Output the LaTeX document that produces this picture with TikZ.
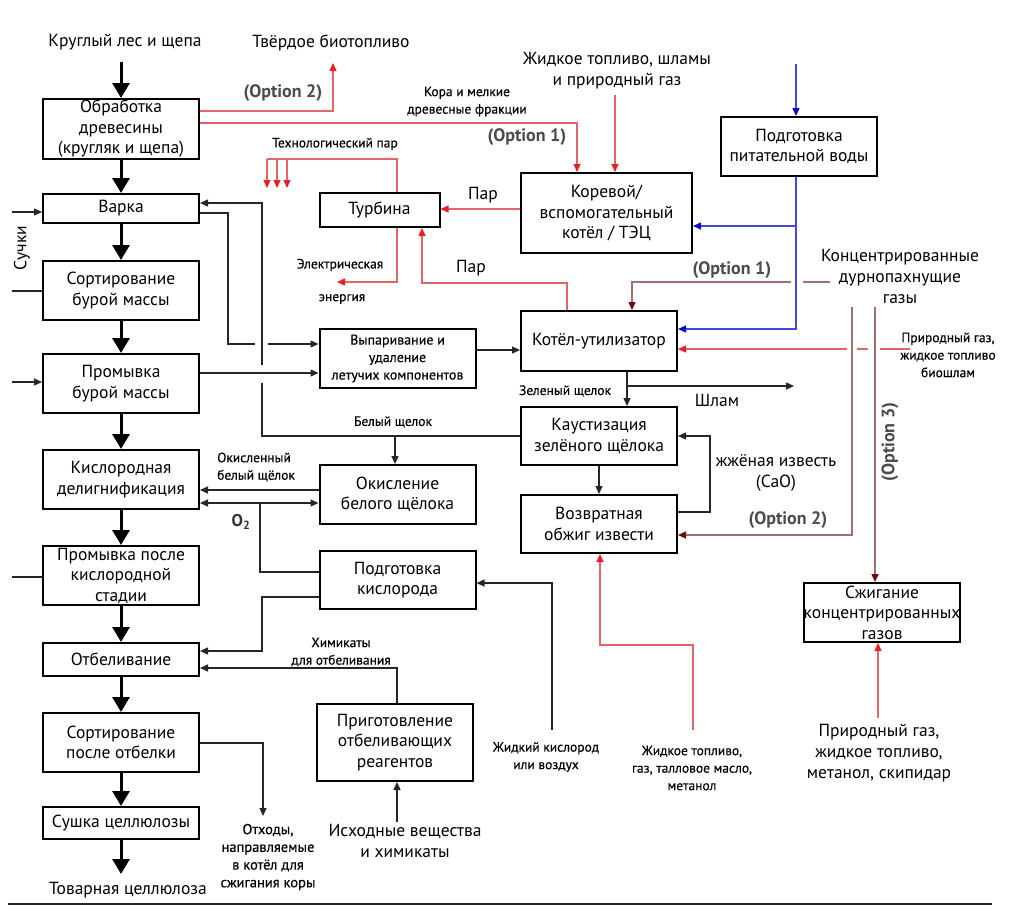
\documentclass[tikz,border=0pt]{standalone}
\usepackage{fontspec}
\setmainfont{PT Sans}
\newfontfamily\semib[FakeBold=0.35]{PT Sans}
\usetikzlibrary{arrows.meta}
\definecolor{lred}{RGB}{226,100,100}
\definecolor{tred}{RGB}{232,30,40}
\definecolor{optc}{RGB}{160,112,112}
\definecolor{optt}{RGB}{110,10,10}
\definecolor{blu}{RGB}{70,70,215}
\definecolor{blut}{RGB}{10,10,200}
\definecolor{optlbl}{RGB}{75,75,75}
\begin{document}
\begin{tikzpicture}[x=1pt,y=-1pt,
  box/.style={draw=black, line width=2pt, inner sep=0pt, align=center, font=\fontsize{17.5}{20.5}\selectfont},
  sbox/.style={box, font=\semib\fontsize{14}{17.5}\selectfont},
  big/.style={inner sep=0pt, align=center, font=\fontsize{17.5}{21}\selectfont},
  small/.style={inner sep=0pt, align=center, font=\semib\fontsize{13.5}{17.5}\selectfont},
  optlabel/.style={inner sep=0pt, text=optlbl, font=\bfseries\fontsize{18}{20}\selectfont},
  mainarr/.style={draw=black, line width=3pt, -{Triangle[length=15pt,width=17pt]}},
  conn/.style={draw=black!85, line width=1.3pt},
  carr/.style={conn, -{Triangle[length=8pt,width=7pt]}},
  cdbl/.style={conn, {Triangle[length=8pt,width=7pt]}-{Triangle[length=8pt,width=7pt]}},
  redl/.style={draw=lred, line width=1.4pt},
  redarr/.style={redl, -{Triangle[length=8pt,width=7pt,color=tred]}},
  optl/.style={draw=optc, line width=1.4pt},
  optarr/.style={optl, -{Triangle[length=8pt,width=7pt,color=optt]}},
  blul/.style={draw=blu, line width=1.4pt},
  bluarr/.style={blul, -{Triangle[length=8pt,width=7pt,color=blut]}}
]
\useasboundingbox (0,0) rectangle (1024,922);
\fill[white] (0,0) rectangle (1024,922);

% ---------- left column boxes ----------
\node[box, minimum width=156pt, minimum height=60pt] (wood) at (121,129) {Обработка\\древесины\\(кругляк и щепа)};
\node[box, minimum width=156pt, minimum height=29pt] (cook) at (121,208.5) {Варка};
\node[box, minimum width=156pt, minimum height=59pt] (sortb) at (121,290.5) {Сортирование\\бурой массы};
\node[box, minimum width=156pt, minimum height=59pt] (washb) at (121,383.5) {Промывка\\бурой массы};
\node[box, minimum width=156pt, minimum height=59pt] (oxdel) at (121,479.5) {Кислородная\\делигнификация};
\node[box, minimum width=156pt, minimum height=59pt] (washo) at (121,575.5) {Промывка после\\кислородной\\стадии};
\node[box, minimum width=156pt, minimum height=33pt] (bleach) at (121,659.5) {Отбеливание};
\node[box, minimum width=156pt, minimum height=59pt] (sorta) at (121,742.5) {Сортирование\\после отбелки};
\node[box, minimum width=156pt, minimum height=32pt] (dry) at (121,823) {Сушка целлюлозы};

% ---------- middle / right boxes ----------
\node[box, minimum width=120pt, minimum height=34pt] (turb) at (379.5,210) {Турбина};
\node[sbox, minimum width=156pt, minimum height=59pt] (evap) at (397.5,358.5) {Выпаривание и\\удаление\\летучих компонентов};
\node[box, minimum width=156pt, minimum height=59pt] (oxwl) at (397.5,494.5) {Окисление\\белого щёлока};
\node[box, minimum width=156pt, minimum height=58pt] (oxprep) at (397.5,580) {Подготовка\\кислорода};
\node[box, minimum width=156pt, minimum height=77pt] (bprep) at (395,742.5) {Приготовление\\отбеливающих\\реагентов};
\node[box, minimum width=171pt, minimum height=80pt] (bark) at (606.5,213) {Коревой/\\вспомогательный\\котёл / ТЭЦ};
\node[box, minimum width=156pt, minimum height=59pt] (feed) at (799,146.5) {Подготовка\\питательной воды};
\node[box, minimum width=156pt, minimum height=60pt] (recov) at (599,341) {Котёл-утилизатор};
\node[box, minimum width=156pt, minimum height=58pt] (caust) at (599,436) {Каустизация\\зелёного щёлока};
\node[box, minimum width=156pt, minimum height=58pt] (lime) at (599,524) {Возвратная\\обжиг извести};
\node[box, minimum width=156pt, minimum height=59pt] (ncg) at (882,612.5) {Сжигание\\концентрированных\\газов};

% ---------- labels ----------
\node[big] (logs) at (125,42) {Круглый лес и щепа};
\node[big] (bio) at (331,43) {Твёрдое биотопливо};
\node[big] (fuel1) at (617,70.5) {Жидкое топливо, шламы\\и природный газ};
\node[big] (ncgl) at (900,276) {Концентрированные\\дурнопахнущие\\газы};
\node[big] (sludge) at (717,400) {Шлам};
\node[big] (cao) at (776,473) {жжёная известь\\(CaO)};
\node[big] (fuel3) at (879,753) {Природный газ,\\жидкое топливо,\\метанол, скипидар};
\node[big] (raw) at (405,841) {Исходные вещества\\и химикаты};
\node[big] (pulp) at (128,890) {Товарная целлюлоза};
\node[big] (steam1) at (483,195) {Пар};
\node[big] (steam2) at (471,268) {Пар};
\node[big, rotate=90] (knots) at (22,248) {Сучки};

\node[small] (barkl) at (467,101.5) {Кора и мелкие\\древесные фракции};
\node[small] (procst) at (335,144) {Технологический пар};
\node[small] (el1) at (340,265) {Электрическая};
\node[small] (el2) at (342,299) {энергия};
\node[small] (gl) at (565,391) {Зеленый щелок};
\node[small] (wl) at (393,422) {Белый щелок};
\node[small, align=left, anchor=west] (owl) at (217,467) {Окисленный\\белый щёлок};
\node[small] (chem) at (341,652) {Химикаты\\для отбеливания};
\node[small, font=\semib\fontsize{14.5}{17.7}\selectfont] (waste) at (268,857) {Отходы,\\направляемые\\в котёл для\\сжигания коры};
\node[small] (lox) at (546,757) {Жидкий кислород\\или воздух};
\node[small] (fuel2) at (692,768) {Жидкое топливо,\\газ, талловое масло,\\метанол};
\node[small] (fuel4) at (948,355) {Природный газ,\\жидкое топливо\\биошлам};
\node[inner sep=0pt, font=\bfseries\fontsize{17}{19}\selectfont, text=black!80] (o2) at (241,522) {O\textsubscript{2}};

\node[optlabel] (op2a) at (283,93) {(Option 2)};
\node[optlabel] (op1a) at (527,137) {(Option 1)};
\node[optlabel] (op1b) at (732,270) {(Option 1)};
\node[optlabel] (op2b) at (788,520) {(Option 2)};
\node[optlabel, rotate=90] (op3) at (890,442) {(Option 3)};

% ---------- main flow ----------
\coordinate (inlog) at (121,62);
\coordinate (outpulp) at (121,874);
\draw[mainarr] (inlog) -- (wood.north);
\draw[mainarr] (wood.south) -- (cook.north);
\draw[mainarr] (cook.south) -- (sortb.north);
\draw[mainarr] (sortb.south) -- (washb.north);
\draw[mainarr] (washb.south) -- (oxdel.north);
\draw[mainarr] (oxdel.south) -- (washo.north);
\draw[mainarr] (washo.south) -- (bleach.north);
\draw[mainarr] (bleach.south) -- (sorta.north);
\draw[mainarr] (sorta.south) -- (dry.north);
\draw[mainarr] (dry.south) -- (outpulp);

% ---------- left inputs ----------
\draw[carr] (12,212) -- (cook.west |- 0,212);
\draw[conn] (12,291) -- (sortb.west |- 0,291);
\draw[carr] (12,382) -- (washb.west |- 0,382);
\draw[conn] (12,577) -- (washo.west |- 0,577);

% ---------- black connectors ----------
\draw[conn] (cook.east |- 0,213) -- (228,213) -- (228,344) -- (255,344);
\draw[carr] (268,344) -- (evap.west |- 0,344);
\draw[carr] (262,365) -- (262,203) -- (cook.east |- 0,203);
\draw[conn] (262,383) -- (262,436) -- (caust.west |- 0,436);
\draw[carr] (395,436) -- (oxwl.north -| 395,0);
\draw[carr] (washb.east |- 0,373) -- (evap.west |- 0,373);
\draw[carr] (evap.east |- 0,350) -- (recov.west |- 0,350);
\draw[carr] (recov.south -| 627,0) -- (caust.north -| 627,0);
\draw[carr] (627,386) -- (794,386);
\draw[carr] (caust.south -| 599,0) -- (lime.north -| 599,0);
\draw[carr] (lime.east |- 0,512) -- (710,512) -- (710,436) -- (caust.east |- 0,436);
\draw[carr] (oxwl.west |- 0,490) -- (oxdel.east |- 0,490);
\draw[cdbl] (oxdel.east |- 0,503) -- (oxwl.west |- 0,503);
\draw[conn] (260,503) -- (260,572) -- (oxprep.west |- 0,572);
\draw[carr] (oxprep.west |- 0,597) -- (262,597) -- (262,651) -- (bleach.east |- 0,651);
\draw[carr] (552,730) -- (552,583) -- (oxprep.east |- 0,583);
\draw[carr] (bprep.north -| 397,0) -- (397,668) -- (bleach.east |- 0,668);
\draw[carr] (397,822) -- (bprep.south -| 397,0);
\draw[carr] (sorta.east |- 0,743) -- (263,743) -- (263,816);

% ---------- red connectors ----------
\draw[redarr] (wood.east |- 0,111) -- (333,111) -- (333,63);
\draw[redarr] (wood.east |- 0,123) -- (577,123) -- (bark.north -| 577,0);
\draw[redarr] (615,95) -- (bark.north -| 615,0);
\draw[redarr] (bark.west |- 0,209) -- (turb.east |- 0,209);
\draw[redl] (turb.north -| 397,0) -- (397,159) -- (267,159);
\draw[redarr] (267,159) -- (267,188);
\draw[redarr] (277,159) -- (277,188);
\draw[redarr] (287,159) -- (287,188);
\draw[redarr] (turb.south -| 397,0) -- (397,282) -- (337,282);
\draw[redarr] (recov.north -| 567,0) -- (567,283) -- (422,283) -- (turb.south -| 422,0);
\draw[redl] (910,349) -- (880,349);
\draw[redl] (868,349) -- (857,349);
\draw[redarr] (847,349) -- (recov.east |- 0,349);
\draw[redarr] (693,730) -- (693,645) -- (600,645) -- (lime.south -| 600,0);
\draw[redarr] (878,718) -- (ncg.south -| 878,0);

% ---------- option connectors ----------
\draw[optl] (830,282) -- (803,282);
\draw[optarr] (791,282) -- (632,282) -- (recov.north -| 632,0);
\draw[optarr] (852,307) -- (852,535) -- (lime.east |- 0,535);
\draw[optarr] (875,307) -- (ncg.north -| 875,0);

% ---------- blue connectors ----------
\draw[bluarr] (796,64) -- (feed.north -| 796,0);
\draw[bluarr] (feed.south -| 796,0) -- (796,329) -- (recov.east |- 0,329);
\draw[bluarr] (796,226) -- (bark.east |- 0,226);

% ---------- bottom rule ----------
\draw[line width=1.5pt, black!85] (8,904) -- (992,904);
\end{tikzpicture}
\end{document}
